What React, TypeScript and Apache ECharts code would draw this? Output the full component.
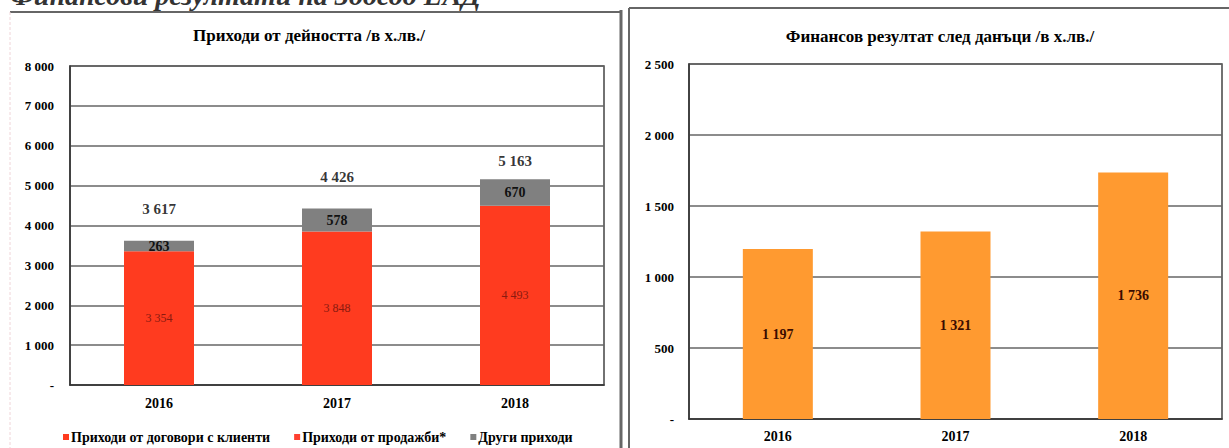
import React, { useEffect, useRef } from "react";
import * as echarts from "echarts";

const years = ["2016", "2017", "2018"];
const contractRevenue = [3354, 3848, 4493];
const salesRevenue = [0, 0, 0];
const otherRevenue = [263, 578, 670];
const totalRevenue = [3617, 4426, 5163];
const profitAfterTax = [1197, 1321, 1736];

const leftTitle = "Приходи от дейността /в х.лв./";
const rightTitle = "Финансов резултат след данъци /в х.лв./";
const pageHeading = "Финансови резултати на Зоосоо ЕАД";
const seriesNames = ["Приходи от договори с клиенти", "Приходи от продажби*", "Други приходи"];

const FONT = "'Liberation Serif', 'DejaVu Serif', serif";
const fmt = (v: number) => (v === 0 ? "-" : String(v).replace(/\B(?=(\d{3})+(?!\d))/g, " "));

export default function App() {
  const ref = useRef<HTMLDivElement>(null);
  useEffect(() => {
    document.body.style.margin = "0";
    const chart = echarts.init(ref.current!, null, { renderer: "svg" });
    const axisLabel = { color: "#000", fontFamily: FONT, fontWeight: "bold" as const, fontSize: 13 };
    const splitLine = { show: true, lineStyle: { color: "#666", width: 1.5 } };
    const totalDist = [24, 24, 11];
    chart.setOption({
      animation: false,
      backgroundColor: "#fff",
      textStyle: { fontFamily: FONT },
      title: [
        { text: leftTitle, left: 304, top: 22, textAlign: "center", textStyle: { fontFamily: FONT, fontSize: 17, fontWeight: "bold", color: "#000" } },
        { text: rightTitle, left: 935, top: 23, textAlign: "center", textStyle: { fontFamily: FONT, fontSize: 17, fontWeight: "bold", color: "#000" } },
      ],
      legend: {
        data: seriesNames,
        left: 58,
        top: 425,
        icon: "rect",
        itemWidth: 6,
        itemHeight: 6,
        itemGap: 24,
        textStyle: { fontFamily: FONT, fontSize: 14, fontWeight: "bold", color: "#000", padding: [0, 0, 0, -3] },
      },
      grid: [
        { left: 70, top: 66, width: 534, height: 319, show: true, borderColor: "#444", borderWidth: 1.5 },
        { left: 689, top: 64, width: 533, height: 355, show: true, borderColor: "#444", borderWidth: 1.5 },
      ],
      xAxis: [
        { type: "category", gridIndex: 0, data: years, axisTick: { show: false }, axisLine: { lineStyle: { color: "#333", width: 1.5 } }, axisLabel: { ...axisLabel, fontSize: 14, margin: 11 } },
        { type: "category", gridIndex: 1, data: years, axisTick: { show: false }, axisLine: { lineStyle: { color: "#333", width: 1.5 } }, axisLabel: { ...axisLabel, fontSize: 14, margin: 10 } },
      ],
      yAxis: [
        { type: "value", gridIndex: 0, min: 0, max: 8000, interval: 1000, axisLine: { show: true, lineStyle: { color: "#333", width: 1.5 } }, splitLine, axisLabel: { ...axisLabel, margin: 16, formatter: fmt } },
        { type: "value", gridIndex: 1, min: 0, max: 2500, interval: 500, axisLine: { show: true, lineStyle: { color: "#333", width: 1.5 } }, splitLine, axisLabel: { ...axisLabel, margin: 15, formatter: fmt } },
      ],
      series: [
        {
          name: seriesNames[0], type: "bar", stack: "rev", xAxisIndex: 0, yAxisIndex: 0, barWidth: 70,
          data: contractRevenue, itemStyle: { color: "#FF3B1F" },
          label: { show: true, position: "inside", color: "#8a1a10", fontSize: 12, fontFamily: FONT, formatter: (p: any) => fmt(p.value) },
        },
        {
          name: seriesNames[1], type: "bar", stack: "rev", xAxisIndex: 0, yAxisIndex: 0, barWidth: 70,
          data: salesRevenue, itemStyle: { color: "#FF4030" }, label: { show: false },
        },
        {
          name: seriesNames[2], type: "bar", stack: "rev", xAxisIndex: 0, yAxisIndex: 0, barWidth: 70,
          data: otherRevenue, itemStyle: { color: "#808080" },
          label: { show: true, position: "inside", color: "#111", fontSize: 14, fontWeight: "bold", fontFamily: FONT, formatter: (p: any) => fmt(p.value) },
        },
        {
          name: "total", type: "scatter", xAxisIndex: 0, yAxisIndex: 0, symbolSize: 0,
          data: totalRevenue.map((v, i) => ({ value: v, label: { distance: totalDist[i] } })),
          label: { show: true, position: "top", color: "#000", fontSize: 15, fontWeight: "bold", fontFamily: FONT, formatter: (p: any) => fmt(p.value) },
          tooltip: { show: false },
        },
        {
          name: "profit", type: "bar", xAxisIndex: 1, yAxisIndex: 1, barWidth: 70,
          data: profitAfterTax, itemStyle: { color: "#FF9A30" },
          label: { show: true, position: "inside", color: "#3a0c00", fontSize: 14, fontWeight: "bold", fontFamily: FONT, formatter: (p: any) => fmt(p.value) },
        },
      ],
      graphic: [
        { type: "text", left: 10, top: -19, style: { text: pageHeading, font: `italic bold 28px ${FONT}`, fill: "#333" }, z: 1 },
        { type: "rect", shape: { x: 0, y: 11, width: 1229, height: 4 }, style: { fill: "#fff" }, z: 2 },
        { type: "line", shape: { x1: 10, y1: 12, x2: 621, y2: 12 }, style: { stroke: "#666", lineWidth: 2 }, z: 3 },
        { type: "line", shape: { x1: 10, y1: 12, x2: 10, y2: 448 }, style: { stroke: "#f0d4d8", lineWidth: 1, lineDash: [3, 2] }, z: 3 },
        { type: "line", shape: { x1: 621, y1: 10, x2: 621, y2: 448 }, style: { stroke: "#666", lineWidth: 3 }, z: 3 },
        { type: "line", shape: { x1: 629, y1: 8, x2: 1229, y2: 8 }, style: { stroke: "#666", lineWidth: 2 }, z: 3 },
        { type: "line", shape: { x1: 629, y1: 8, x2: 629, y2: 448 }, style: { stroke: "#666", lineWidth: 2 }, z: 3 },
      ],
    });
    return () => chart.dispose();
  }, []);
  return <div ref={ref} style={{ position: "fixed", left: 0, top: 0, width: 1229, height: 448 }} />;
}
